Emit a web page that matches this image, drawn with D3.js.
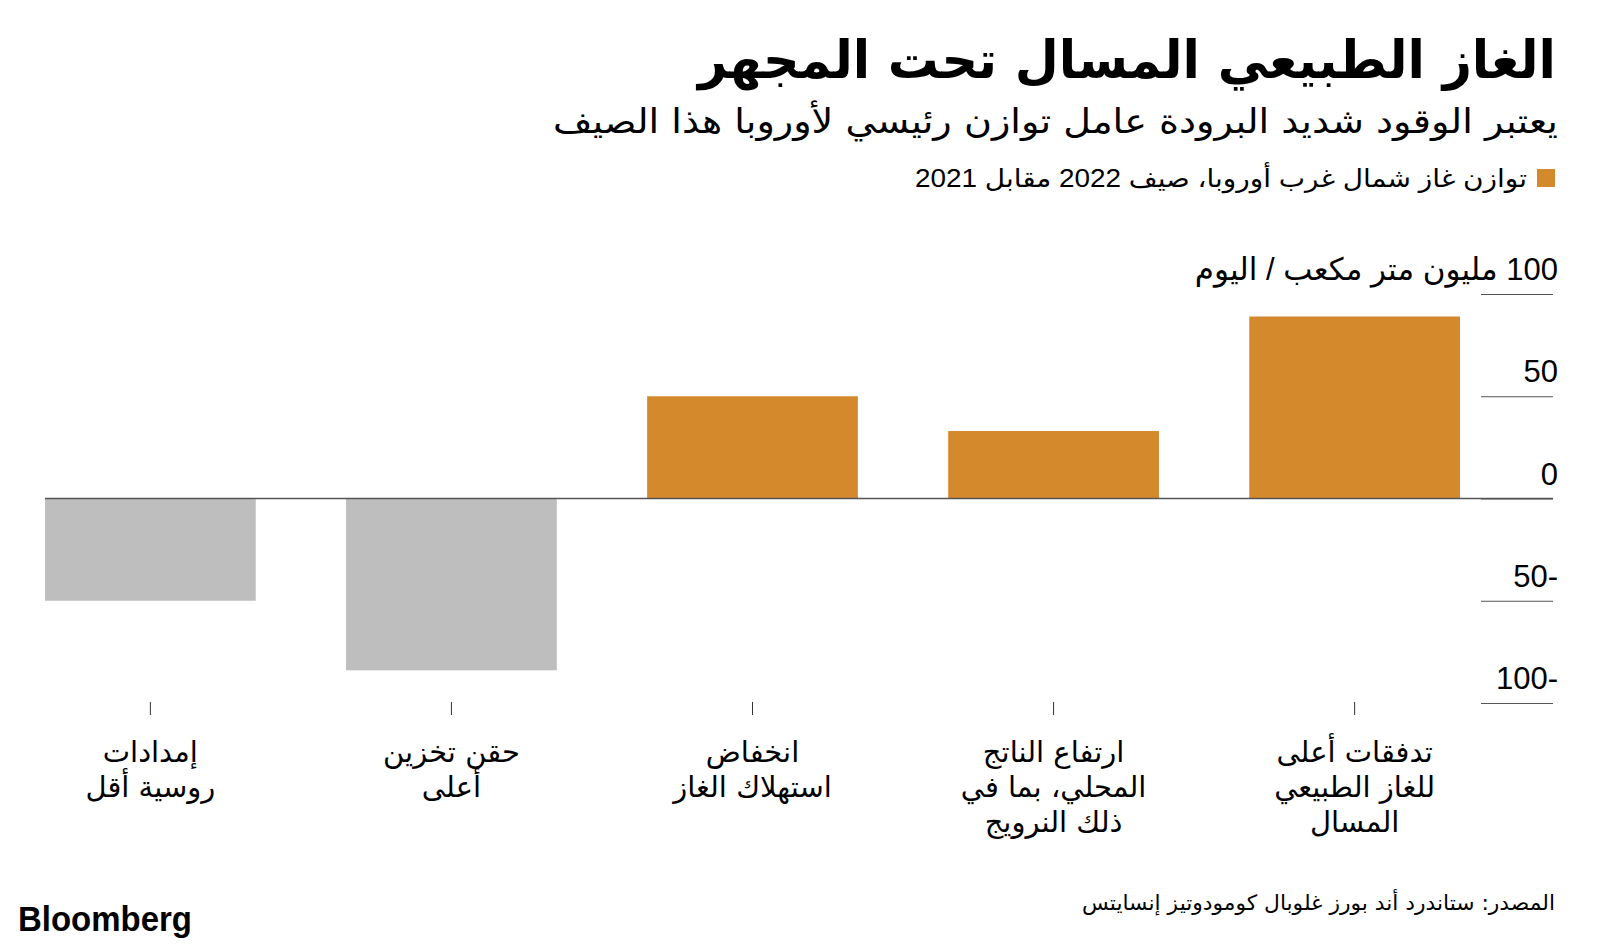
<!DOCTYPE html>
<html lang="ar">
<head>
<meta charset="utf-8">
<script src="https://cdn.jsdelivr.net/npm/d3@7"></script>
<style>
  html, body { margin: 0; padding: 0; background: #ffffff; }
  svg { display: block; }
  text { font-family: "DejaVu Sans", sans-serif; fill: #000; }
</style>
</head>
<body>
<svg id="chart" width="1600" height="951"></svg>
<script>
// ---------- data (reading order: right to left) ----------
const categories = [
  ["تدفقات أعلى", "للغاز الطبيعي", "المسال"],
  ["ارتفاع الناتج", "المحلي، بما في", "ذلك النرويج"],
  ["انخفاض", "استهلاك الغاز"],
  ["حقن تخزين", "أعلى"],
  ["إمدادات", "روسية أقل"]
];
const values = [89, 33, 50, -84, -50];
const yTicks = [100, 50, 0, -50, -100];
const yUnit = "مليون متر مكعب / اليوم";
const titleText = "الغاز الطبيعي المسال تحت المجهر";
const subtitleText = "يعتبر الوقود شديد البرودة عامل توازن رئيسي لأوروبا هذا الصيف";
const legendText = "توازن غاز شمال غرب أوروبا، صيف 2022 مقابل 2021";
const sourceText = "المصدر: ستاندرد أند بورز غلوبال كومودوتيز إنسايتس";
const logoText = "Bloomberg";

// ---------- setup ----------
const svg = d3.select("#chart");
const ORANGE = "#d4892d", GREY = "#bebebe";

function alignRight(sel, xr) {
  const b = sel.node().getBBox();
  const x0 = +sel.attr("x");
  sel.attr("x", x0 + (xr - (b.x + b.width)));
}
function fit(sel, w) {
  sel.attr("textLength", w).attr("lengthAdjust", "spacingAndGlyphs");
}

const x = d3.scaleBand()
  .domain(d3.range(categories.length))
  .range([1460, 45])
  .paddingInner(0.3)
  .paddingOuter(0);

const y = d3.scaleLinear().domain([-100, 100]).range([703, 294]);

// ---------- title block ----------
const title = svg.append("text")
  .attr("x", 700).attr("y", 78)
  .attr("direction", "rtl")
  .style("font-size", "52px").style("font-weight", "bold")
  .text(titleText);
fit(title, 858);
alignRight(title, 1556);

const sub = svg.append("text")
  .attr("x", 560).attr("y", 133)
  .attr("direction", "rtl")
  .style("font-size", "34px")
  .text(subtitleText);
fit(sub, 1005);
alignRight(sub, 1558);

svg.append("rect")
  .attr("x", 1537).attr("y", 169).attr("width", 18).attr("height", 18)
  .attr("fill", ORANGE);
const leg = svg.append("text")
  .attr("x", 900).attr("y", 187)
  .attr("direction", "rtl")
  .style("font-size", "25px")
  .style("font-family", "'Liberation Sans', 'DejaVu Sans', sans-serif")
  .text(legendText);
fit(leg, 612);
alignRight(leg, 1527);

// ---------- y grid + labels ----------
const yAxis = d3.axisLeft(y).tickValues(yTicks).tickSize(72).tickFormat("");
const gy = svg.append("g").attr("transform", "translate(1553,0)").call(yAxis);
gy.select(".domain").remove();
gy.selectAll(".tick line").attr("stroke", "#555").attr("stroke-width", 1.2);

svg.selectAll(".ylab")
  .data(yTicks)
  .join("text")
  .attr("class", "ylab")
  .attr("y", d => y(d) - 14)
  .attr("x", 1400)
  .attr("direction", "rtl")
  .style("font-size", "31px")
  .style("font-family", "'Liberation Sans', 'DejaVu Sans', sans-serif")
  .text(d => d === 100 ? `${d} ${yUnit}` : `${d}`)
  .each(function() { alignRight(d3.select(this), 1558); });

// ---------- bars ----------
svg.selectAll(".bar")
  .data(values)
  .join("rect")
  .attr("class", "bar")
  .attr("x", (d, i) => x(i))
  .attr("width", x.bandwidth())
  .attr("y", d => y(Math.max(0, d)))
  .attr("height", d => Math.abs(y(d) - y(0)))
  .attr("fill", d => d >= 0 ? ORANGE : GREY);

// zero line
svg.append("line")
  .attr("x1", 45).attr("x2", 1553)
  .attr("y1", y(0)).attr("y2", y(0))
  .attr("stroke", "#555").attr("stroke-width", 1.5);

// ---------- x axis ticks + labels ----------
const xAxis = d3.axisBottom(x).tickSize(13).tickFormat("");
const gx = svg.append("g").attr("transform", "translate(0,702)").call(xAxis);
gx.select(".domain").remove();
gx.selectAll(".tick line").attr("stroke", "#333").attr("stroke-width", 1);

const lab = svg.selectAll(".xlab")
  .data(categories)
  .join("text")
  .attr("class", "xlab")
  .attr("text-anchor", "middle")
  .attr("direction", "rtl")
  .style("font-size", "29px");
lab.selectAll("tspan")
  .data((d, i) => d.map(t => ({ t, i })))
  .join("tspan")
  .attr("x", d => x(d.i) + x.bandwidth() / 2)
  .attr("y", (d, j) => 762 + j * 35)
  .text(d => d.t);

// ---------- footer ----------
const src = svg.append("text")
  .attr("x", 1080).attr("y", 910)
  .attr("direction", "rtl")
  .style("font-size", "21px")
  .text(sourceText);
fit(src, 473);
alignRight(src, 1555);

const logo = svg.append("text")
  .attr("x", 18).attr("y", 931)
  .style("font-family", "'Liberation Sans', sans-serif")
  .style("font-weight", "bold")
  .style("font-size", "35px")
  .text(logoText);
fit(logo, 174);
</script>
</body>
</html>
